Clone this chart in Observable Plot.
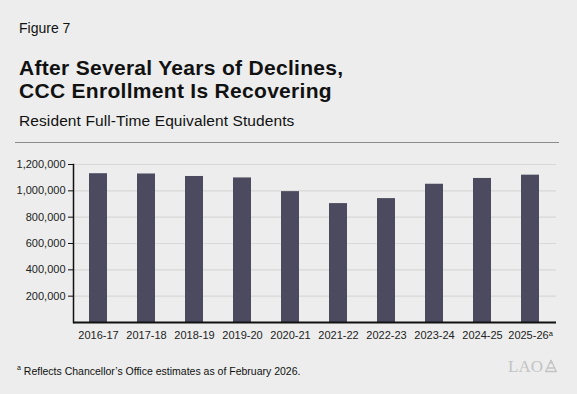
<!DOCTYPE html>
<html>
<head>
<meta charset="utf-8">
<script src="https://cdn.jsdelivr.net/npm/d3@7"></script>
<script src="https://cdn.jsdelivr.net/npm/@observablehq/plot@0.6"></script>
<style>
  html, body { margin: 0; padding: 0; }
  body { width: 577px; height: 394px; overflow: hidden; }
  #card { position: relative; width: 577px; height: 394px; background: #ecedec; font-family: "Liberation Sans", Arial, sans-serif; color: #111; }
  .t { position: absolute; left: 19px; white-space: nowrap; }
  #fig { top: 20.5px; font-size: 14px; line-height: 14px; }
  #title { top: 56.1px; font-size: 21px; line-height: 23.3px; font-weight: bold; letter-spacing: 0.3px; }
  #sub { top: 112.6px; font-size: 15.5px; line-height: 15.5px; letter-spacing: 0.1px; }
  #sep { position: absolute; left: 15px; top: 141.5px; width: 544px; height: 0; border-top: 1.5px solid #8c8c8c; }
  #chart { position: absolute; left: 0; top: 150px; }
  #note { top: 363.1px; font-size: 10.5px; line-height: 10.5px; left: 17px; }
  #logo { position: absolute; left: 508px; top: 358px; font-family: "Liberation Serif", "DejaVu Serif", serif; font-size: 17px; line-height: 17px; color: #c3c4c3; white-space: nowrap; }
</style>
</head>
<body>
<div id="card">
  <div class="t" id="fig">Figure 7</div>
  <div class="t" id="title">After Several Years of Declines,<br>CCC Enrollment Is Recovering</div>
  <div class="t" id="sub">Resident Full-Time Equivalent Students</div>
  <div id="sep"></div>
  <div id="chart"></div>
  <div class="t" id="note"><sup style="font-size:7px">a</sup> Reflects Chancellor’s Office estimates as of February 2026.</div>
  <div id="logo">LAO<svg width="14" height="14" viewBox="0 0 14 14" style="vertical-align:-1px;margin-left:1px"><path d="M7 1 L12 12 M7 1 L2 12 M3 9 H11 M1 12.5 H13 M5 4 H9" stroke="#c3c4c3" stroke-width="1.3" fill="none"/></svg></div>
</div>
<script>
const years = ["2016-17", "2017-18", "2018-19", "2019-20", "2020-21", "2021-22", "2022-23", "2023-24", "2024-25", "2025-26ᵃ"];
const enrollment = [1130000, 1128000, 1109000, 1098000, 994000, 903000, 941000, 1050000, 1094000, 1119000];
const yTicks = [200000, 400000, 600000, 800000, 1000000, 1200000];

const data = years.map((year, i) => ({year, value: enrollment[i]}));

const chart = Plot.plot({
  width: 577,
  height: 195,
  marginLeft: 73,
  marginRight: 21,
  marginTop: 14,
  marginBottom: 23,
  style: {background: "transparent", fontFamily: "'Liberation Sans', Arial, sans-serif", fontSize: "11px", color: "#222"},
  x: {domain: years, paddingInner: 0.62, paddingOuter: 0.31, align: 0.5},
  y: {domain: [0, 1200000]},
  marks: [
    Plot.ruleY(yTicks, {stroke: "#d7d8d7", strokeWidth: 1.2}),
    Plot.barY(data, {x: "year", y: "value", fill: "#4b4a5e"}),
    Plot.ruleY([0], {stroke: "#111", strokeWidth: 2}),
    Plot.frame({anchor: "left", stroke: "#111", strokeWidth: 1.5}),
    Plot.axisY({ticks: yTicks, tickFormat: d3.format(","), tickSize: 5, tickPadding: 3, label: null, stroke: "#111"}),
    Plot.axisX({tickSize: 0, tickPadding: 9, label: null})
  ]
});
document.getElementById("chart").append(chart);
</script>
</body>
</html>
